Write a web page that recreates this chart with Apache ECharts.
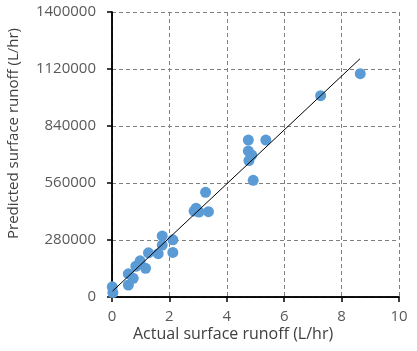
<!DOCTYPE html>
<html>
<head>
<meta charset="utf-8">
<script src="https://cdn.jsdelivr.net/npm/echarts@6/dist/echarts.min.js"></script>
<style>
  html, body { margin: 0; padding: 0; background: #fff; }
  #chart { width: 417px; height: 351px; }
</style>
</head>
<body>
<div id="chart"></div>
<script>
// actual runoff (x) vs predicted runoff (y)
const actual = [0.01, 0.03, 0.57, 0.57, 0.74, 0.83, 0.98, 1.17, 1.27, 1.61, 1.75, 1.75, 2.12, 2.12,
  2.86, 2.93, 3.03, 3.26, 3.36, 4.75, 4.75, 4.87, 4.77, 4.92, 5.36, 7.27, 8.65];
const predicted = [50000, 22000, 59000, 114000, 92000, 151000, 178000, 141000, 217000, 213000, 300000, 255000, 281000, 219000,
  422000, 436000, 417000, 514000, 419000, 771000, 717000, 697000, 670000, 573000, 771000, 989000, 1097000];

// fitted trend line end points
const trendX = [0.02, 8.64];
const trendY = [29000, 1170000];

const xTicks = { min: 0, max: 10, interval: 2 };
const yTicks = { min: 0, max: 1400000, interval: 280000 };

const labelStyle = { color: '#595959', fontFamily: 'Open Sans', fontSize: 15 };

const chart = echarts.init(document.getElementById('chart'));
chart.setOption({
  animation: false,
  grid: { left: 112, right: 18, top: 12, bottom: 54 },
  xAxis: [{
    type: 'value', min: xTicks.min, max: xTicks.max, interval: xTicks.interval,
    axisLine: { lineStyle: { color: '#000', width: 1.5 } },
    axisTick: { show: true, length: 5, lineStyle: { color: '#000', width: 1.5 } },
    axisLabel: Object.assign({ margin: 12 }, labelStyle),
    splitLine: { lineStyle: { color: '#7f7f7f', type: [4, 3], width: 1 } }
  }, {
    type: 'value', position: 'top', min: xTicks.min, max: xTicks.max, interval: xTicks.interval,
    axisLine: { show: true, lineStyle: { color: '#000', width: 1.5 } },
    axisTick: { show: false }, axisLabel: { show: false }, splitLine: { show: false }
  }],
  yAxis: [{
    type: 'value', min: yTicks.min, max: yTicks.max, interval: yTicks.interval,
    axisLine: { show: true, lineStyle: { color: '#000', width: 1.5 } },
    axisTick: { show: true, length: 5, lineStyle: { color: '#000', width: 1.5 } },
    axisLabel: Object.assign({ margin: 16, formatter: v => String(v) }, labelStyle),
    splitLine: { lineStyle: { color: '#7f7f7f', type: [4, 3], width: 1 } }
  }, {
    type: 'value', position: 'right', min: yTicks.min, max: yTicks.max, interval: yTicks.interval,
    axisLine: { show: true, lineStyle: { color: '#000', width: 1.5 } },
    axisTick: { show: false }, axisLabel: { show: false }, splitLine: { show: false }
  }],
  graphic: [
    { type: 'text', left: 133, top: 326,
      style: { text: 'Actual surface runoff (L/hr)', fill: '#404040', font: '16px "Open Sans"' } },
    { type: 'text', x: 6, y: 239, rotation: Math.PI / 2,
      style: { text: 'Predicted surface runoff (L/hr)', fill: '#404040', font: '15px "Open Sans"' } }
  ],
  series: [{
    type: 'scatter',
    data: actual.map((x, i) => [x, predicted[i]]),
    symbolSize: 11,
    itemStyle: { color: '#5b9bd5', opacity: 1 },
    z: 2
  }, {
    type: 'line',
    data: trendX.map((x, i) => [x, trendY[i]]),
    symbol: 'none',
    lineStyle: { color: '#000', width: 1 },
    z: 3
  }]
});
</script>
</body>
</html>
